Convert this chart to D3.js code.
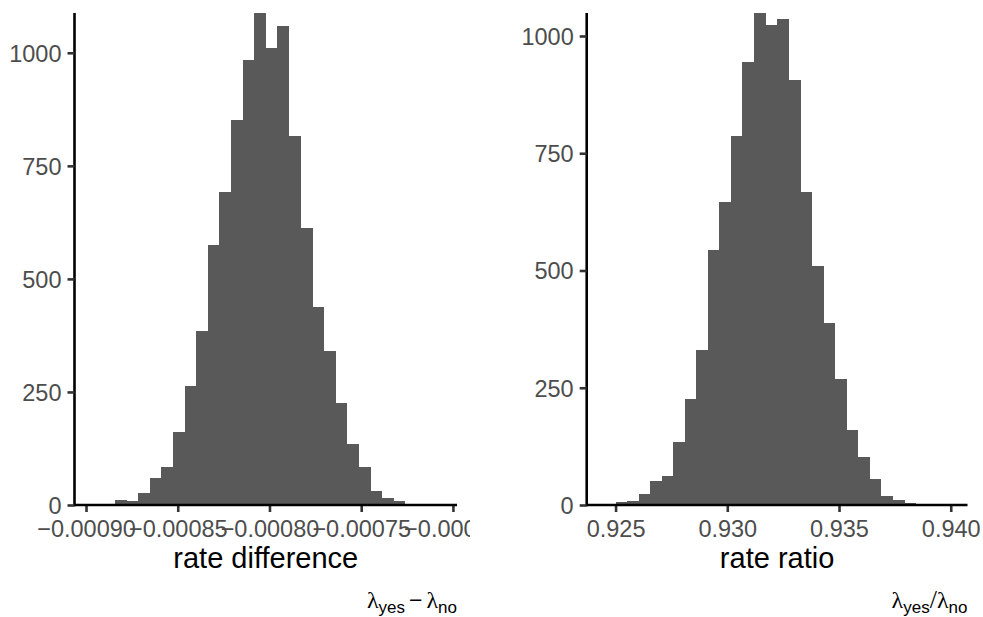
<!DOCTYPE html>
<html>
<head>
<meta charset="utf-8">
<script src="https://cdn.jsdelivr.net/npm/d3@7"></script>
<style>
  html, body { margin: 0; padding: 0; background: #fff; }
  svg { display: block; }
  text { font-family: "Liberation Sans", Arial, Helvetica, sans-serif; }
</style>
</head>
<body>
<svg id="chart" width="983" height="617"></svg>
<script>
// ---- data ----
const diffBinStart = -0.0008968;
const diffBinWidth = 6.318e-6;
const diffCounts = [1, 0, 11, 9, 27, 60, 84, 162, 263, 385, 576, 693, 852, 984, 1088,
                    1011, 1060, 815, 612, 438, 341, 226, 135, 84, 31, 15, 9, 2, 1, 1];
const ratioBinStart = 0.924483;
const ratioBinWidth = 0.0005164;
const ratioCounts = [1, 7, 9, 24, 51, 62, 134, 227, 331, 543, 645, 786, 944, 1049, 1023,
                     1037, 906, 668, 510, 387, 269, 160, 102, 55, 19, 11, 4, 1, 0, 1];
const diffTicks = [-0.0009, -0.00085, -0.0008, -0.00075, -0.0007];
const ratioTicks = [0.925, 0.930, 0.935, 0.940];
const yTicks = [0, 250, 500, 750, 1000];
const diffTitle = "rate difference";
const ratioTitle = "rate ratio";

const svg = d3.select("#chart");
const defs = svg.append("defs");
defs.append("clipPath").attr("id", "clipL")
  .append("rect").attr("x", 0).attr("y", 0).attr("width", 470).attr("height", 617);

const BAR = "#595959", TICKTXT = "#4D4D4D", LW = 2.6, TL = 7;
const TICKFS = "23.5px";

function panel(opts) {
  const g = svg.append("g");
  if (opts.clip) g.attr("clip-path", "url(#" + opts.clip + ")");
  const n = opts.counts.length;
  const lo = opts.binStart, hi = opts.binStart + n * opts.binWidth;
  const pad = (hi - lo) * 0.05;
  const x = d3.scaleLinear().domain([lo - pad, hi + pad]).range([opts.x0, opts.x1]);
  const y = d3.scaleLinear().domain([0, d3.max(opts.counts)]).range([505, 13]);

  const bins = opts.counts.map((c, i) => ({
    a: opts.binStart + i * opts.binWidth,
    b: opts.binStart + (i + 1) * opts.binWidth,
    c: c
  }));
  g.append("g").attr("shape-rendering", "crispEdges")
    .selectAll("rect").data(bins).join("rect")
    .attr("x", d => x(d.a))
    .attr("width", d => x(d.b) - x(d.a) + 0.5)
    .attr("y", d => y(d.c))
    .attr("height", d => y(0) - y(d.c))
    .attr("fill", BAR);

  // y axis
  const ya = g.append("g").attr("transform", `translate(${opts.x0},0)`)
    .call(d3.axisLeft(y).tickValues(yTicks).tickSize(TL).tickSizeOuter(0).tickFormat(d3.format("d")));
  ya.select(".domain").attr("stroke", "#000").attr("stroke-width", LW)
    .attr("d", `M0,13V${505 + LW / 2}`);
  ya.selectAll(".tick line").attr("stroke", "#333").attr("stroke-width", LW);
  ya.selectAll(".tick text").attr("x", -(TL + 6)).attr("dy", "0.36em")
    .attr("fill", TICKTXT).style("font-size", TICKFS);

  // x axis
  const xa = g.append("g").attr("transform", `translate(0,505)`)
    .call(d3.axisBottom(x).tickValues(opts.ticks).tickSize(TL).tickSizeOuter(0).tickFormat(opts.fmt));
  xa.select(".domain").attr("stroke", "#000").attr("stroke-width", LW)
    .attr("d", `M${opts.x0},0H${opts.x1}`);
  xa.selectAll(".tick line").attr("stroke", "#333").attr("stroke-width", LW);
  xa.selectAll(".tick text").attr("y", 31.5).attr("dy", null)
    .attr("fill", TICKTXT).style("font-size", TICKFS);
  xa.selectAll(".domain, .tick line").raise();

  // axis title
  g.append("text").attr("x", (opts.x0 + opts.x1) / 2).attr("y", 568)
    .attr("text-anchor", "middle").attr("fill", "#000").style("font-size", "29px")
    .text(opts.title);

  // caption
  const cap = g.append("text").attr("x", opts.x1).attr("y", 608)
    .attr("text-anchor", "end").attr("fill", "#000");
  const serif = '"Liberation Serif", "Times New Roman", serif';
  cap.append("tspan").style("font-family", serif).style("font-size", "24px").text("λ");
  cap.append("tspan").attr("dy", 5).style("font-size", "17px").text("yes");
  if (opts.op === "-") {
    cap.append("tspan").attr("dy", -5).attr("dx", 4).style("font-size", "23px").text("−");
    cap.append("tspan").attr("dx", 4).style("font-family", serif).style("font-size", "24px").text("λ");
  } else {
    cap.append("tspan").attr("dy", -5).attr("dx", 0).style("font-family", serif).style("font-size", "26px").text("/");
    cap.append("tspan").attr("dx", 0).style("font-family", serif).style("font-size", "24px").text("λ");
  }
  cap.append("tspan").attr("dy", 5).style("font-size", "17px").text("no");
}

const fmtDiff = d => d3.format(".5f")(d).replace("-", "−");
const fmtRatio = d => d3.format(".3f")(d);

panel({ x0: 74.5, x1: 457, counts: diffCounts, binStart: diffBinStart, binWidth: diffBinWidth,
        ticks: diffTicks, fmt: fmtDiff, title: diffTitle, op: "-", clip: "clipL" });
panel({ x0: 586.7, x1: 967.5, counts: ratioCounts, binStart: ratioBinStart, binWidth: ratioBinWidth,
        ticks: ratioTicks, fmt: fmtRatio, title: ratioTitle, op: "/" });
</script>
</body>
</html>
